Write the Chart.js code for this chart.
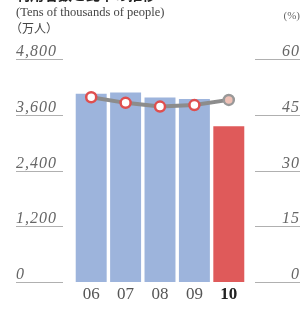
<!DOCTYPE html>
<html>
<head>
<meta charset="utf-8">
<script src="https://cdn.jsdelivr.net/npm/chart.js@4"></script>
<style>
  html, body { margin: 0; padding: 0; background: #fff; }
  #wrap { width: 303px; height: 309px; position: relative; }
</style>
</head>
<body>
<div id="wrap"><canvas id="chart" width="303" height="309"></canvas></div>
<script>
// data
var years = ['06', '07', '08', '09', '10'];
var people = [4050, 4080, 3970, 3940, 3350];      // 万人
var rate = [49.7, 48.2, 47.2, 47.6, 49.0];         // %
var leftTicks = [0, 1200, 2400, 3600, 4800];
var rightTicks = [0, 15, 30, 45, 60];

var barColors = ['#9db4dc', '#9db4dc', '#9db4dc', '#9db4dc', '#df5a5a'];
var pointFill = ['#ffffff', '#ffffff', '#ffffff', '#ffffff', '#efc1b6'];
var pointEdge = ['#df4f4f', '#df4f4f', '#df4f4f', '#df4f4f', '#999999'];

var serif = '"Liberation Serif", "DejaVu Serif", serif';

// tick labels sitting on short underlines, plus the header texts
var axisLabels = {
    id: 'axisLabels',
    afterDraw: function (chart) {
        var ctx = chart.ctx;
        var yl = chart.scales.y, yr = chart.scales.y1;
        ctx.save();
        ctx.strokeStyle = '#b0b0b0';
        ctx.lineWidth = 1;
        ctx.fillStyle = '#666';
        ctx.font = 'italic 16px ' + serif;
        ctx.letterSpacing = '1px';
        ctx.textBaseline = 'alphabetic';

        leftTicks.forEach(function (v) {
            var y = Math.round(yl.getPixelForValue(v)) + 0.5;
            ctx.beginPath(); ctx.moveTo(16, y); ctx.lineTo(63, y); ctx.stroke();
            ctx.textAlign = 'left';
            ctx.fillText(v.toLocaleString('en-US'), 16, y - 4);
        });
        rightTicks.forEach(function (v) {
            var y = Math.round(yr.getPixelForValue(v)) + 0.5;
            ctx.beginPath(); ctx.moveTo(255, y); ctx.lineTo(300, y); ctx.stroke();
            ctx.textAlign = 'right';
            ctx.fillText(String(v), 300, y - 4);
        });

        ctx.letterSpacing = '0px';
        // title, cut off at the top edge
        ctx.fillStyle = '#222';
        ctx.textAlign = 'left';
        ctx.font = 'bold 14px "Noto Sans CJK JP", sans-serif';
        ctx.fillText('利用者数と比率の推移', 16, 0);

        ctx.fillStyle = '#444';
        ctx.font = '12.5px ' + serif;
        ctx.fillText('(Tens of thousands of people)', 16, 16);
        ctx.font = '12px "Noto Sans CJK JP", sans-serif';
        ctx.fillText('（万人）', 10, 33);
        ctx.fillStyle = '#666';
        ctx.font = '11px ' + serif;
        ctx.textAlign = 'right';
        ctx.fillText('(%)', 300, 19);
        ctx.restore();
    }
};

new Chart(document.getElementById('chart').getContext('2d'), {
    type: 'bar',
    data: {
        labels: years,
        datasets: [{
            type: 'line',
            data: rate,
            yAxisID: 'y1',
            order: 0,
            borderColor: '#8c8c8c',
            borderWidth: 4,
            tension: 0,
            pointRadius: 5,
            pointBorderWidth: 2.5,
            pointBackgroundColor: pointFill,
            pointBorderColor: pointEdge
        }, {
            type: 'bar',
            data: people,
            yAxisID: 'y',
            order: 1,
            backgroundColor: barColors,
            barPercentage: 0.9,
            categoryPercentage: 1
        }]
    },
    options: {
        responsive: false,
        animation: false,
        layout: { padding: { top: 59, left: 0, right: 0, bottom: 0 } },
        plugins: { legend: { display: false }, tooltip: { enabled: false } },
        scales: {
            x: {
                grid: { display: false, drawTicks: false },
                border: { display: false },
                ticks: {
                    padding: 2,
                    color: function (c) { return c.index === 4 ? '#222' : '#555'; },
                    font: function (c) {
                        return { family: serif, size: 17, weight: c.index === 4 ? 'bold' : 'normal' };
                    }
                },
                afterFit: function (s) { s.height = 27; }
            },
            y: {
                position: 'left',
                min: 0, max: 4800,
                ticks: { display: false, stepSize: 1200 },
                grid: { display: false },
                border: { display: false },
                afterFit: function (s) { s.width = 74; }
            },
            y1: {
                position: 'right',
                min: 0, max: 60,
                ticks: { display: false, stepSize: 15 },
                grid: { display: false },
                border: { display: false },
                afterFit: function (s) { s.width = 57; }
            }
        }
    },
    plugins: [axisLabels]
});
</script>
</body>
</html>
